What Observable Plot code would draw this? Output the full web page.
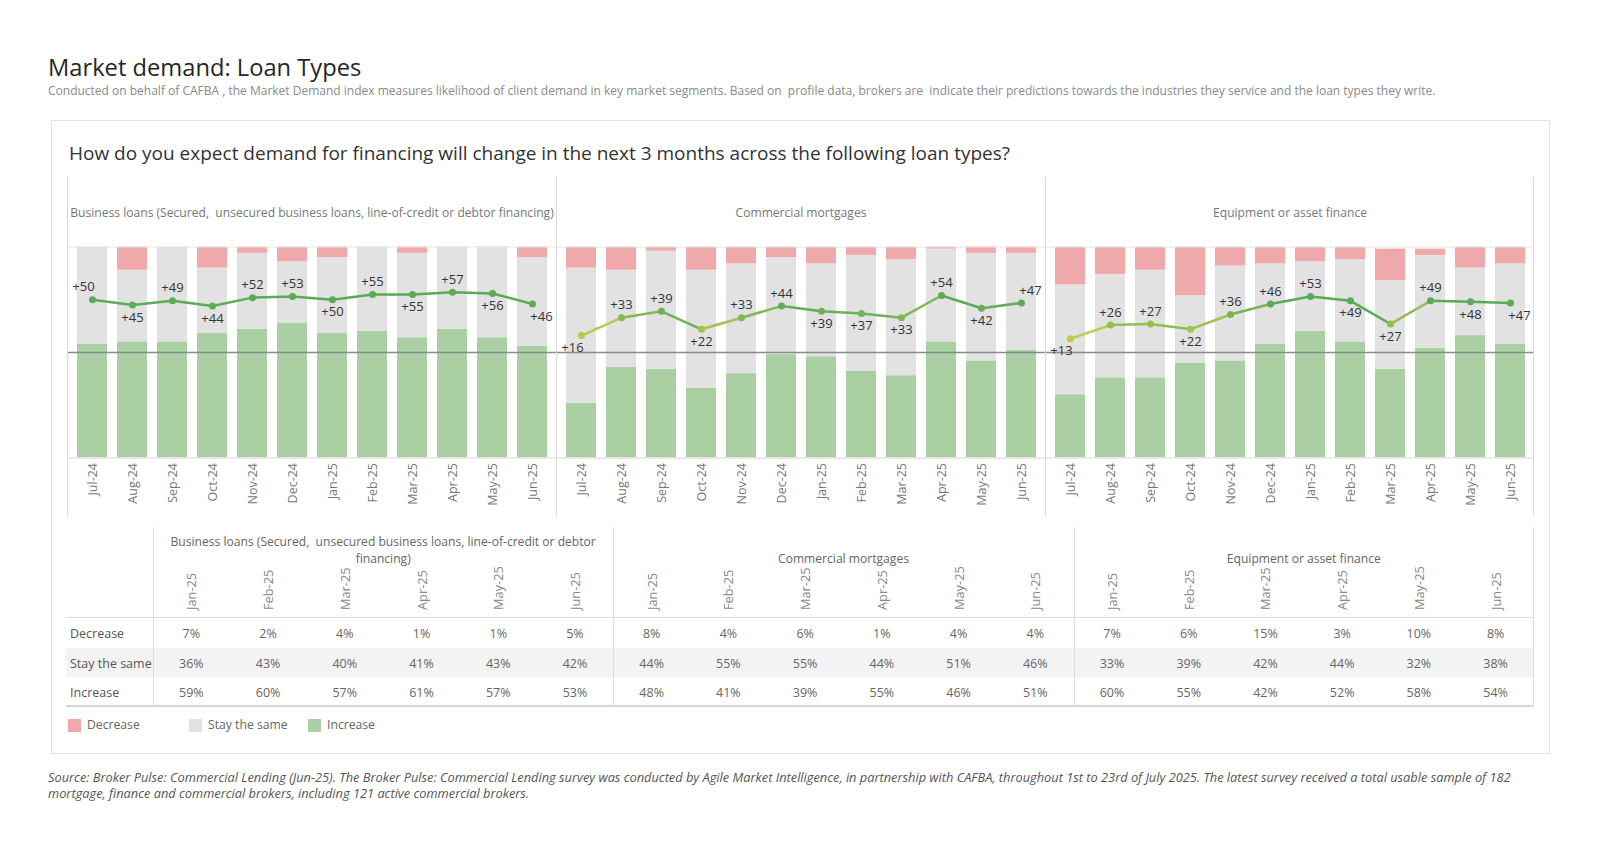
<!DOCTYPE html>
<html>
<head>
<meta charset="utf-8">
<script src="https://cdn.jsdelivr.net/npm/d3@7"></script>
<script src="https://cdn.jsdelivr.net/npm/@observablehq/plot@0.6"></script>
<style>
  body { margin: 0; background: #fff; font-family: "Open Sans", "Noto Sans", sans-serif; }
  #page { position: relative; width: 1600px; height: 850px; overflow: hidden; background: #fff; }
  .abs { position: absolute; white-space: nowrap; }
  #chart svg { overflow: visible; }
</style>
</head>
<body>
<div id="page">
  <div class="abs" style="left:48px;top:55px;font-size:23.7px;line-height:24px;color:#262626;">Market demand: Loan Types</div>
  <div class="abs" style="left:48px;top:85px;font-size:12px;line-height:12px;color:#8a8a8a;white-space:pre;">Conducted on behalf of CAFBA , the Market Demand index measures likelihood of client demand in key market segments. Based on  profile data, brokers are  indicate their predictions towards the industries they service and the loan types they write.</div>
  <div class="abs" style="left:51px;top:120px;width:1497px;height:632px;border:1px solid #e4e4e4;"></div>
  <div class="abs" style="left:69px;top:144px;font-size:19px;line-height:19px;color:#333;">How do you expect demand for financing will change in the next 3 months across the following loan types?</div>
  <div id="chart" class="abs" style="left:66px;top:176.5px;"></div>
  <div class="abs" style="left:1533px;top:176.5px;width:1px;height:338px;background:#d9d9d9;"></div>
  <div id="table" class="abs" style="left:66px;top:527px;width:1468px;height:181px;"></div>
  <div id="legend" class="abs" style="left:0;top:718px;width:600px;height:16px;"></div>
  <div class="abs" style="left:48px;top:769px;font-size:12.8px;line-height:16px;color:#555;font-style:italic;">Source: Broker Pulse: Commercial Lending (Jun-25). The Broker Pulse: Commercial Lending survey was conducted by Agile Market Intelligence, in partnership with CAFBA, throughout 1st to 23rd of July 2025. The latest survey received a total usable sample of 182<br>mortgage, finance and commercial brokers, including 121 active commercial brokers.</div>
</div>
<script>
// ---------- DATA ----------
const months = ["Jul-24","Aug-24","Sep-24","Oct-24","Nov-24","Dec-24","Jan-25","Feb-25","Mar-25","Apr-25","May-25","Jun-25"];
const tableMonths = ["Jan-25","Feb-25","Mar-25","Apr-25","May-25","Jun-25"];
const loanTypes = [
  "Business loans (Secured,  unsecured business loans, line-of-credit or debtor financing)",
  "Commercial mortgages",
  "Equipment or asset finance"
];
const responses = ["Increase", "Stay the same", "Decrease"];
const tableRows = ["Decrease", "Stay the same", "Increase"];

const businessIncrease = [54, 55, 55, 59, 61, 64, 59, 60, 57, 61, 57, 53];
const businessStay     = [46, 34, 45, 31, 36, 29, 36, 43, 40, 41, 43, 42];
const businessDecrease = [0, 11, 0, 10, 3, 7, 7, 2, 4, 1, 1, 5];
const businessNet      = [50, 45, 49, 44, 52, 53, 50, 55, 55, 57, 56, 46];

const mortgageIncrease = [26, 43, 42, 33, 40, 49, 48, 41, 39, 55, 46, 51];
const mortgageStay     = [64, 46, 56, 56, 52, 46, 44, 55, 55, 44, 51, 46];
const mortgageDecrease = [10, 11, 2, 11, 8, 5, 8, 4, 6, 1, 4, 4];
const mortgageNet      = [16, 33, 39, 22, 33, 44, 39, 37, 33, 54, 42, 47];

const equipmentIncrease = [30, 38, 38, 45, 46, 54, 60, 55, 42, 52, 58, 54];
const equipmentStay     = [52, 49, 51, 32, 45, 38, 33, 39, 42, 44, 32, 38];
const equipmentDecrease = [18, 13, 11, 23, 9, 8, 7, 6, 15, 3, 10, 8];
const equipmentNet      = [13, 26, 27, 22, 36, 46, 53, 49, 27, 49, 48, 47];

// ---------- STYLE ----------
const responseColors = {"Decrease": "#f0a9ab", "Stay the same": "#e2e2e2", "Increase": "#a9cfa3"};
const FONT = "'Open Sans', 'Noto Sans', sans-serif";

const series = [
  {type: loanTypes[0], Increase: businessIncrease, "Stay the same": businessStay, Decrease: businessDecrease, net: businessNet},
  {type: loanTypes[1], Increase: mortgageIncrease, "Stay the same": mortgageStay, Decrease: mortgageDecrease, net: mortgageNet},
  {type: loanTypes[2], Increase: equipmentIncrease, "Stay the same": equipmentStay, Decrease: equipmentDecrease, net: equipmentNet}
];

const barRows = series.flatMap(s => months.flatMap((m, i) =>
  responses.map(r => ({type: s.type, month: m, response: r, value: s[r][i]}))));

const netRows = series.flatMap(s => months.map((m, i) => {
  const a = s.net;
  const below = i === 0 ? a[i] < a[i + 1] : a[i] <= a[i - 1];
  const edge = i === 0 ? "first" : i === months.length - 1 ? "last" : "mid";
  return {type: s.type, month: m, net: a[i], below, edge};
}));

// net score axis (-100..100) shares the frame with the 0..100% bars
const netY = d => (d.net + 100) / 2;

const labelMarks = [];
for (const below of [false, true]) {
  for (const [edge, dx] of [["first", -9], ["mid", 0], ["last", 9]]) {
    labelMarks.push(Plot.text(netRows.filter(d => d.below === below && d.edge === edge), {
      fx: "type", x: "month", y: netY, text: d => "+" + d.net,
      dy: below ? 12.5 : -12.5, dx, fill: "#333", fontSize: 13
    }));
  }
}

const chart = Plot.plot({
  width: 1468, height: 338,
  marginLeft: 0, marginRight: 0, marginTop: 69.5, marginBottom: 57.5,
  style: {fontFamily: FONT, fontSize: "12.5px", color: "#777", background: "transparent"},
  fx: {domain: loanTypes, padding: 0, axis: null},
  x: {domain: months, paddingInner: 0.25, paddingOuter: 0.12, tickSize: 0, tickRotate: -90, tickPadding: 5, label: null},
  y: {domain: [0, 100], axis: null},
  color: {type: "linear", domain: [12, 46], range: ["#c2cc4c", "#5aaa58"], clamp: true},
  marks: [
    Plot.barY(barRows, {fx: "type", x: "month", y: "value", fill: d => responseColors[d.response], clip: true}),
    Plot.ruleY([100], {stroke: "#e6e6e6"}),
    Plot.ruleY([0], {stroke: "#d6d6d6"}),
    Plot.ruleY([50], {stroke: "#8a8a8a", strokeWidth: 1.5}),
    Plot.frame({anchor: "left", stroke: "#d9d9d9", insetTop: -69.5, insetBottom: -57.5}),
    Plot.text(loanTypes, {fx: d => d, text: d => d, frameAnchor: "top", lineAnchor: "middle", dy: -34, fill: "#777", fontSize: 12.1}),
    Plot.line(netRows, {fx: "type", x: "month", y: netY, stroke: "net", z: null, strokeWidth: 2.5}),
    Plot.dot(netRows, {fx: "type", x: "month", y: netY, fill: "net", r: 3.5}),
    ...labelMarks
  ]
});
document.getElementById("chart").appendChild(chart);

// ---------- TABLE ----------
const T = document.getElementById("table");
function add(parent, style, text) {
  const e = document.createElement("div");
  e.className = "abs";
  Object.assign(e.style, style);
  if (text !== undefined) e.textContent = text;
  parent.appendChild(e);
  return e;
}
const W = 1468, labelW = 87, gw = (W - labelW) / 3, cw = gw / 6;
const tableData = series.map(s => ({
  "Decrease": s.Decrease.slice(6), "Stay the same": s["Stay the same"].slice(6), "Increase": s.Increase.slice(6)
}));
add(T, {left: "0px", top: "121px", width: W + "px", height: "29px", background: "#f3f3f3"});
add(T, {left: "0px", top: "90px", width: W + "px", height: "1px", background: "#dcdcdc"});
add(T, {left: "0px", top: "178px", width: W + "px", height: "2px", background: "#d6d6d6"});
for (let k = 0; k <= 3; k++) {
  const x = k < 3 ? labelW + k * gw : W - 1;
  add(T, {left: x + "px", top: "0px", width: "1px", height: "179px", background: "#dcdcdc"});
}
const rowTops = [91.5, 121.5, 150.5];
tableRows.forEach((r, ri) => {
  add(T, {left: "4px", top: rowTops[ri] + "px", height: "29px", lineHeight: "29px", fontSize: "12.5px", color: "#555"}, r);
});
loanTypes.forEach((t, g) => {
  const h = add(T, {left: (labelW + g * gw + 10) + "px", top: "0px", width: (gw - 20) + "px", height: "39.5px",
    display: "flex", alignItems: "flex-end", justifyContent: "center", textAlign: "center",
    whiteSpace: "pre-wrap", fontSize: "12.1px", lineHeight: "17px", color: "#666"});
  h.textContent = t;
  tableMonths.forEach((m, j) => {
    const cx = labelW + g * gw + (j + 0.5) * cw;
    add(T, {left: (cx - 8) + "px", top: "83px", lineHeight: "16px", fontSize: "12.8px", color: "#888",
      transformOrigin: "0 0", transform: "rotate(-90deg)"}, m);
    tableRows.forEach((r, ri) => {
      add(T, {left: (labelW + g * gw + j * cw) + "px", width: cw + "px", top: rowTops[ri] + "px", height: "29px",
        lineHeight: "29px", textAlign: "center", fontSize: "12.5px", color: "#666"}, tableData[g][r][j] + "%");
    });
  });
});

// ---------- LEGEND ----------
const L = document.getElementById("legend");
const legendX = [68, 189, 308];
tableRows.forEach((r, i) => {
  add(L, {left: legendX[i] + "px", top: "0.5px", width: "13px", height: "13px", background: responseColors[r]});
  add(L, {left: (legendX[i] + 19) + "px", top: "-1px", lineHeight: "15px", fontSize: "12.2px", color: "#666"}, r);
});
</script>
</body>
</html>
